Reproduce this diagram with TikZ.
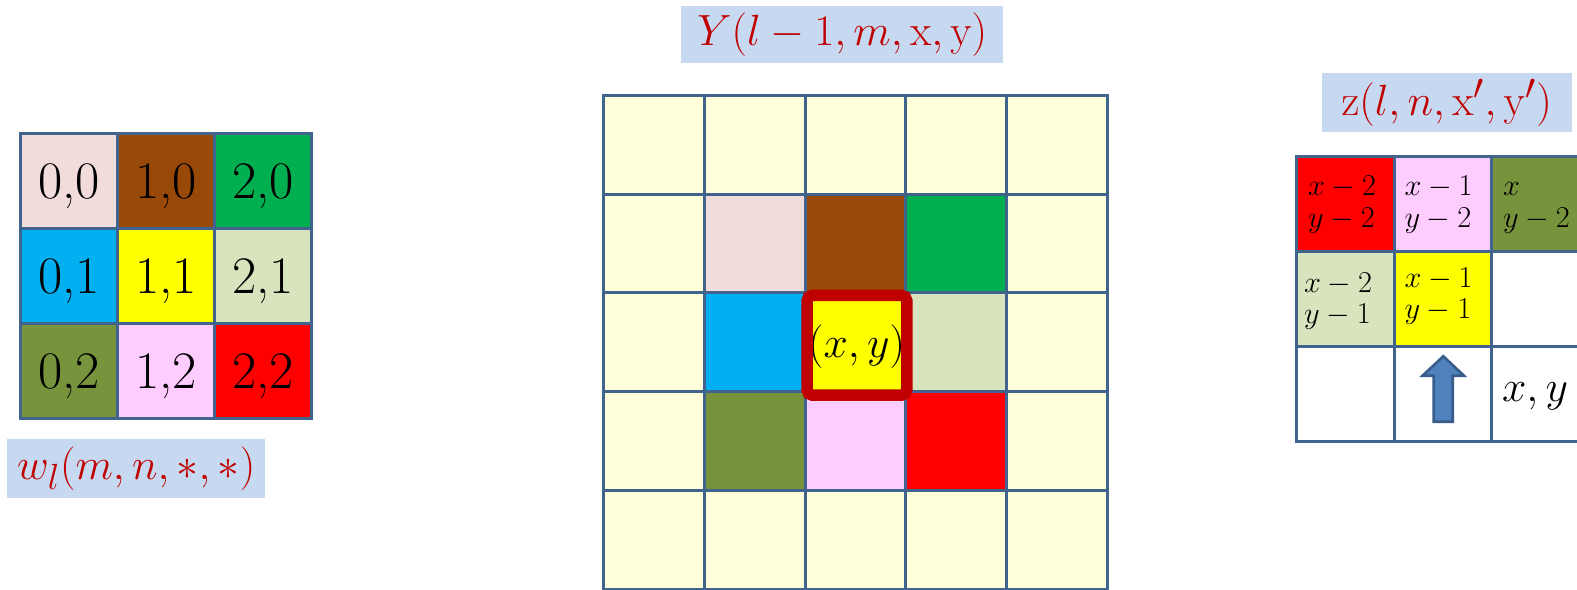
\documentclass[tikz,border=0pt]{standalone}
\usepackage{tikz}
\usetikzlibrary{calc,positioning}
\definecolor{gridline}{HTML}{41648F}
\definecolor{cream}{HTML}{FFFFDA}
\definecolor{capfill}{HTML}{C6D9F1}
\definecolor{capred}{HTML}{C00000}
\definecolor{kpink}{HTML}{F2DCDB}
\definecolor{kbrown}{HTML}{984807}
\definecolor{kgreen}{HTML}{00B050}
\definecolor{kblue}{HTML}{00B0F0}
\definecolor{kyellow}{HTML}{FFFF00}
\definecolor{klgreen}{HTML}{D7E4BD}
\definecolor{kolive}{HTML}{77933C}
\definecolor{kmagenta}{HTML}{FFCCFF}
\definecolor{kred}{HTML}{FF0000}
\definecolor{arrowfill}{HTML}{4F81BD}
\definecolor{arrowline}{HTML}{385D8A}
\tikzset{
  cell/.style={draw=gridline, line width=1.7pt, outer sep=0pt, inner sep=0pt,
    minimum width=1.944cm, minimum height=1.904cm, text depth=0pt,
    font=\fontsize{30}{34}\selectfont},
  ycell/.style={cell, fill=cream, minimum width=2.014cm, minimum height=1.975cm},
  zcell/.style={cell, fill=white, minimum width=1.95cm, minimum height=1.906cm},
  ztext/.style={anchor=north west, inner sep=0pt, align=left,
    font=\fontsize{17}{18}\selectfont},
  caption/.style={fill=capfill, text=capred, inner sep=0pt,
    font=\fontsize{27.5}{30}\selectfont},
  hilite/.style={draw=capred, line width=0.23cm, rounded corners=3pt,
    minimum width=1.996cm, minimum height=1.994cm},
  uparrow/.style={draw=arrowline, fill=arrowfill, line width=1.5pt, line join=miter}
}
\begin{document}
\begin{tikzpicture}[x=0.02cm, y=-0.02cm]
  \clip (0,0) rectangle (1577,589);

  % kernel
  \node[cell, fill=kpink] (w00) at (69,180.8) {0,0};
  \node[cell, fill=kbrown, right=0pt of w00] (w10) {1,0};
  \node[cell, fill=kgreen, right=0pt of w10] (w20) {2,0};
  \node[cell, fill=kblue, below=0pt of w00] (w01) {0,1};
  \node[cell, fill=kyellow, right=0pt of w01] (w11) {1,1};
  \node[cell, fill=klgreen, right=0pt of w11] (w21) {2,1};
  \node[cell, fill=kolive, below=0pt of w01] (w02) {0,2};
  \node[cell, fill=kmagenta, right=0pt of w02] (w12) {1,2};
  \node[cell, fill=kred, right=0pt of w12] (w22) {2,2};
  \node[caption, minimum width=5.15cm, minimum height=1.17cm] (wcap) at (136.2,468.3) {$w_l(m,n,\ast,\ast)$};

  % input map
  \node[caption, minimum width=6.45cm, minimum height=1.15cm] (ycap) at (842.2,34.7) {$Y(l-1,m,\mathrm{x},\mathrm{y})$};
  \foreach \i in {0,...,4}
    \foreach \j in {0,...,4}
      \node[ycell] (y\i\j) at ({654.2+100.7*\i},{144.8+98.75*\j}) {};
  \node[ycell, fill=kpink] (k00) at (y11) {};
  \node[ycell, fill=kbrown] (k10) at (y21) {};
  \node[ycell, fill=kgreen] (k20) at (y31) {};
  \node[ycell, fill=kblue] (k01) at (y12) {};
  \node[ycell, fill=kyellow] (k11) at (y22) {};
  \node[ycell, fill=klgreen] (k21) at (y32) {};
  \node[ycell, fill=kolive] (k02) at (y13) {};
  \node[ycell, fill=kmagenta] (k12) at (y23) {};
  \node[ycell, fill=kred] (k22) at (y33) {};
  \node[anchor=base, inner sep=0pt, font=\fontsize{28}{30}\selectfont] (xy) at ($(k11.center)+(1,15)$) {$(x,y)$};
  \node[hilite] (focus) at ($(k11.center)+(1.3,3)$) {};

  % output map
  \node[caption, minimum width=5.0cm, minimum height=1.17cm] (zcap) at (1446.7,102.5) {$\mathrm{z}(l,n,\mathrm{x}',\mathrm{y}')$};
  \node[zcell, fill=kred] (z00) at (1345.5,203.7) {};
  \node[zcell, fill=kmagenta, right=0pt of z00] (z10) {};
  \node[zcell, fill=kolive, right=0pt of z10] (z20) {};
  \node[zcell, fill=klgreen, below=0pt of z00] (z01) {};
  \node[zcell, fill=kyellow, right=0pt of z01] (z11) {};
  \node[zcell, right=0pt of z11] (z21) {};
  \node[zcell, below=0pt of z01] (z02) {};
  \node[zcell, right=0pt of z02] (z12) {};
  \node[zcell, right=0pt of z12] (z22) {};
  \node[ztext] (t00) at ($(z00.north west)+(11,20)$) {$x-2$\\$y-2$};
  \node[ztext] (t10) at ($(z10.north west)+(10,20)$) {$x-1$\\$y-2$};
  \node[ztext] (t20) at ($(z20.north west)+(11,20)$) {$x\vphantom{2}$\\$y-2$};
  \node[ztext] (t01) at ($(z01.north west)+(7,21)$) {$x-2$\\$y-1$};
  \node[ztext] (t11) at ($(z11.north west)+(10,16)$) {$x-1$\\$y-1$};
  \node[anchor=base west, inner sep=0pt, font=\fontsize{27}{30}\selectfont] (xyout) at ($(z22.west)+(10,7.5)$) {$x,y$};
  \draw[uparrow] ($(z12.center)+(-9.3,27.5)$) -- ($(z12.center)+(-9.3,-18.5)$)
    -- ($(z12.center)+(-20.5,-18.5)$) -- ($(z12.center)+(0.3,-38)$)
    -- ($(z12.center)+(21,-18.5)$) -- ($(z12.center)+(9.8,-18.5)$)
    -- ($(z12.center)+(9.8,27.5)$) -- cycle;
\end{tikzpicture}
\end{document}
